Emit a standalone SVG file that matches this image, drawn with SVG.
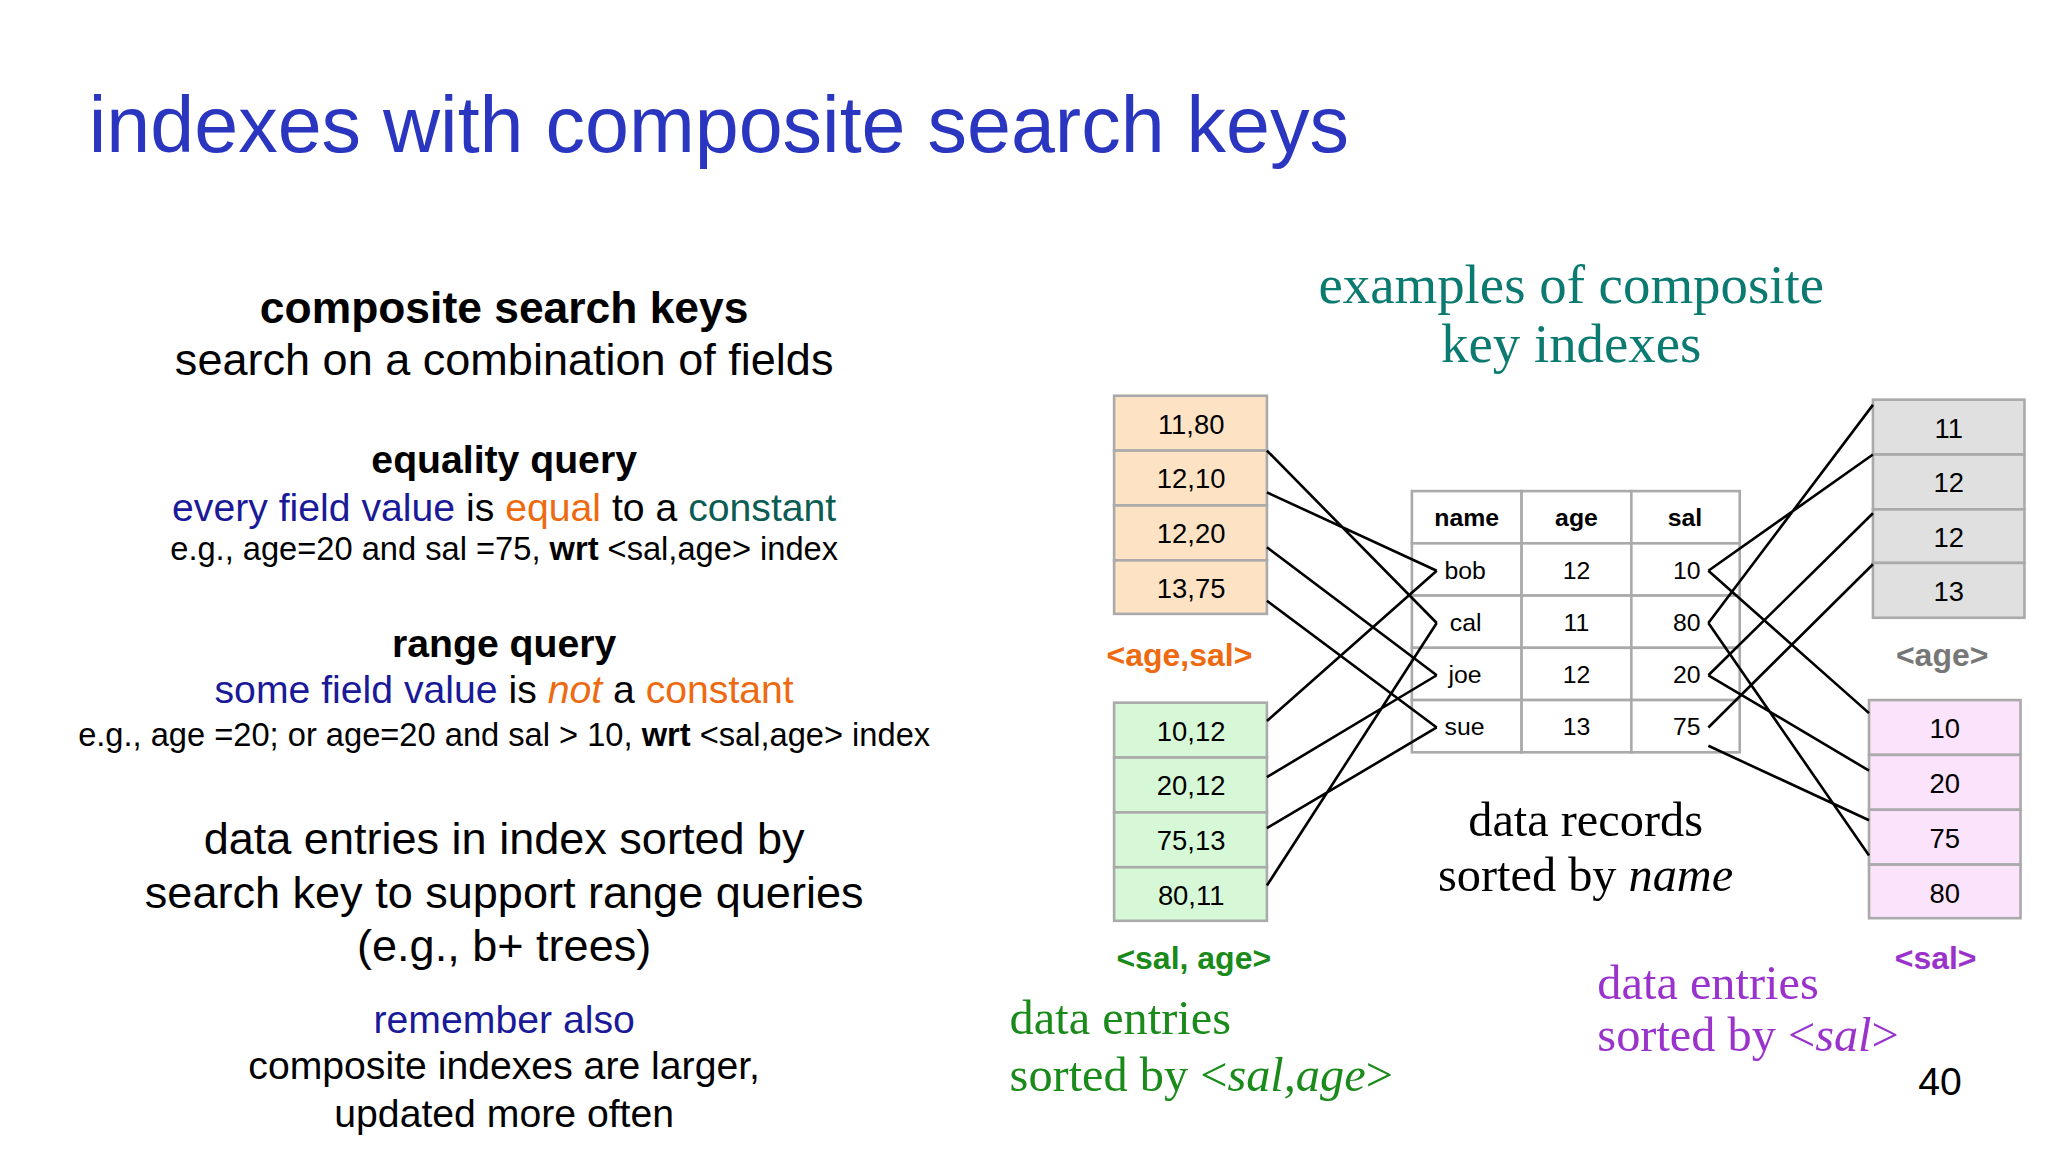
<svg xmlns="http://www.w3.org/2000/svg" width="2048" height="1152" viewBox="0 0 2048 1152">
<style>
.s{font-family:"Liberation Sans",Arial,sans-serif}
.r{font-family:"Liberation Serif","Times New Roman",serif}
.c{text-anchor:middle}
.b{font-weight:bold}
.box{stroke:#aaa;stroke-width:2}
.tb{fill:#fff;stroke:#aaa;stroke-width:2}
.ln{stroke:#000;stroke-width:2;fill:none}
</style>
<rect width="2048" height="1152" fill="#fff"/>
<g transform="scale(1.3061)">
<text x="68" y="116" class="s" font-size="60.5" fill="#2a35c0">indexes with composite search keys</text>
<g id="left-text" class="s c">
<text x="386" y="247" font-size="34" class="b">composite search keys</text>
<text x="386" y="287" font-size="34.5">search on a combination of fields</text>
<text x="386" y="362" font-size="30" class="b">equality query</text>
<text x="386" y="399" font-size="30"><tspan fill="#1a1a99">every field value</tspan> is <tspan fill="#ee6a10">equal</tspan> to a <tspan fill="#0b5c52">constant</tspan></text>
<text x="386" y="429" font-size="25">e.g., age=20 and sal =75, <tspan class="b">wrt</tspan> &lt;sal,age&gt; index</text>
<text x="386" y="503" font-size="30" class="b">range query</text>
<text x="386" y="538" font-size="30"><tspan fill="#1a1a99">some field value</tspan> is <tspan fill="#ee6a10" font-style="italic">not</tspan> a <tspan fill="#ee6a10">constant</tspan></text>
<text x="386" y="571" font-size="25">e.g., age =20; or age=20 and sal &gt; 10, <tspan class="b">wrt</tspan> &lt;sal,age&gt; index</text>
<text x="386" y="654" font-size="34.5">data entries in index sorted by</text>
<text x="386" y="695" font-size="34.5">search key to support range queries</text>
<text x="386" y="736" font-size="34.5">(e.g., b+ trees)</text>
<text x="386" y="791" font-size="30">  <tspan fill="#1a1a99">remember also</tspan></text>
<text x="386" y="826" font-size="30">composite indexes are larger,</text>
<text x="386" y="863" font-size="30">updated more often</text>
</g>
<text x="1203" y="232" class="r c" font-size="42" fill="#0b7a70">examples of composite</text>
<text x="1203" y="277" class="r c" font-size="42" fill="#0b7a70">key indexes</text>
<g id="age-sal" class="s c" font-size="21">
<rect x="853" y="303" width="117" height="42" class="box" fill="#fde3c4"/><text x="912" y="332">11,80</text>
<rect x="853" y="345" width="117" height="42" class="box" fill="#fde3c4"/><text x="912" y="374">12,10</text>
<rect x="853" y="387" width="117" height="42" class="box" fill="#fde3c4"/><text x="912" y="416">12,20</text>
<rect x="853" y="429" width="117" height="41" class="box" fill="#fde3c4"/><text x="912" y="458">13,75</text>
<text x="903" y="510" font-size="24.5" class="b" fill="#ee6a10">&lt;age,sal&gt;</text>
</g>
<g id="sal-age" class="s c" font-size="21">
<rect x="853" y="538" width="117" height="42" class="box" fill="#d6f8d6"/><text x="912" y="567">10,12</text>
<rect x="853" y="580" width="117" height="42" class="box" fill="#d6f8d6"/><text x="912" y="609">20,12</text>
<rect x="853" y="622" width="117" height="42" class="box" fill="#d6f8d6"/><text x="912" y="651">75,13</text>
<rect x="853" y="664" width="117" height="41" class="box" fill="#d6f8d6"/><text x="912" y="693">80,11</text>
<text x="914" y="742" font-size="24.5" class="b" fill="#1a8a1a">&lt;sal, age&gt;</text>
</g>
<g id="records" class="s" font-size="19">
<rect x="1081" y="376" width="84" height="40" class="tb"/><rect x="1165" y="376" width="84" height="40" class="tb"/><rect x="1249" y="376" width="83" height="40" class="tb"/>
<rect x="1081" y="416" width="84" height="40" class="tb"/><rect x="1165" y="416" width="84" height="40" class="tb"/><rect x="1249" y="416" width="83" height="40" class="tb"/>
<rect x="1081" y="456" width="84" height="40" class="tb"/><rect x="1165" y="456" width="84" height="40" class="tb"/><rect x="1249" y="456" width="83" height="40" class="tb"/>
<rect x="1081" y="496" width="84" height="40" class="tb"/><rect x="1165" y="496" width="84" height="40" class="tb"/><rect x="1249" y="496" width="83" height="40" class="tb"/>
<rect x="1081" y="536" width="84" height="40" class="tb"/><rect x="1165" y="536" width="84" height="40" class="tb"/><rect x="1249" y="536" width="83" height="40" class="tb"/>
<text x="1123" y="403" class="c b">name</text><text x="1207" y="403" class="c b">age</text><text x="1290" y="403" class="c b">sal</text>
<text x="1106" y="443">bob</text><text x="1207" y="443" class="c">12</text><text x="1302" y="443" text-anchor="end">10</text>
<text x="1110" y="483">cal</text><text x="1207" y="483" class="c">11</text><text x="1302" y="483" text-anchor="end">80</text>
<text x="1109" y="523">joe</text><text x="1207" y="523" class="c">12</text><text x="1302" y="523" text-anchor="end">20</text>
<text x="1106" y="563">sue</text><text x="1207" y="563" class="c">13</text><text x="1302" y="563" text-anchor="end">75</text>
</g>
<g id="age" class="s c" font-size="21">
<rect x="1434" y="306" width="116" height="42" class="box" fill="#e0e0e0"/><text x="1492" y="335">11</text>
<rect x="1434" y="348" width="116" height="42" class="box" fill="#e0e0e0"/><text x="1492" y="377">12</text>
<rect x="1434" y="390" width="116" height="41" class="box" fill="#e0e0e0"/><text x="1492" y="419">12</text>
<rect x="1434" y="431" width="116" height="42" class="box" fill="#e0e0e0"/><text x="1492" y="460">13</text>
<text x="1487" y="510" font-size="24.5" class="b" fill="#777">&lt;age&gt;</text>
</g>
<g id="sal" class="s c" font-size="21">
<rect x="1431" y="536" width="116" height="42" class="box" fill="#fbe4fb"/><text x="1489" y="565">10</text>
<rect x="1431" y="578" width="116" height="42" class="box" fill="#fbe4fb"/><text x="1489" y="607">20</text>
<rect x="1431" y="620" width="116" height="42" class="box" fill="#fbe4fb"/><text x="1489" y="649">75</text>
<rect x="1431" y="662" width="116" height="41" class="box" fill="#fbe4fb"/><text x="1489" y="691">80</text>
<text x="1482" y="742" font-size="24.5" class="b" fill="#9933cc">&lt;sal&gt;</text>
</g>
<g id="connectors">
<path class="ln" d="M970 345L1100 477M970 377L1100 437M970 419L1100 517M970 460L1100 557"/>
<path class="ln" d="M970 552L1100 437M970 595L1100 517M970 634L1100 557M970 678L1100 477"/>
<path class="ln" d="M1308 437L1434 348M1308 477L1434 310M1308 517L1434 393M1308 557L1434 432"/>
<path class="ln" d="M1308 437L1431 546M1308 477L1431 655M1308 517L1431 590M1308 571L1431 628"/>
</g>
<text x="1214" y="640" class="r c" font-size="37">data records</text>
<text x="1214" y="682" class="r c" font-size="37">sorted by <tspan font-style="italic">name</tspan></text>
<text x="773" y="792" class="r" font-size="37" fill="#1a8a1a">data entries</text>
<text x="773" y="835" class="r" font-size="37" fill="#1a8a1a">sorted by &lt;<tspan font-style="italic">sal,age</tspan>&gt;</text>
<text x="1223" y="765" class="r" font-size="37" fill="#9933cc">data entries</text>
<text x="1223" y="805" class="r" font-size="37" fill="#9933cc">sorted by &lt;<tspan font-style="italic">sal</tspan>&gt;</text>
<text x="1502" y="838" class="s" font-size="30" text-anchor="end">40</text>
</g>
</svg>
